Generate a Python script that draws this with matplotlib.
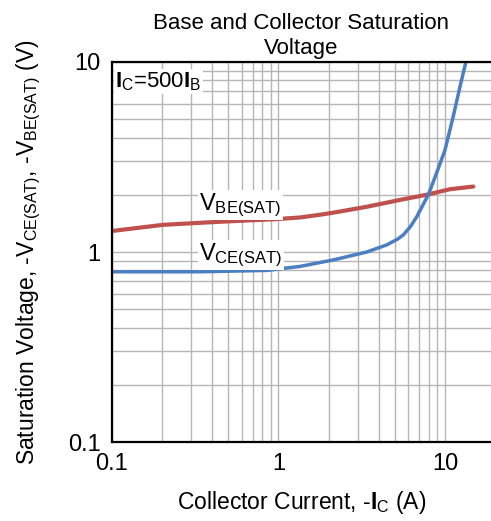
import matplotlib
matplotlib.use('Agg')
from matplotlib import pyplot as plt
from matplotlib.ticker import LogLocator, NullFormatter

plt.rcParams['font.family'] = ['Liberation Sans', 'DejaVu Sans']
plt.rcParams['mathtext.fontset'] = 'custom'
plt.rcParams['mathtext.rm'] = 'Liberation Sans'
plt.rcParams['mathtext.it'] = 'Liberation Sans'
plt.rcParams['mathtext.bf'] = 'Liberation Sans:bold'

# V_BE(SAT) curve
ic_be = [0.1, 0.203, 0.425, 0.975, 1.35, 1.77, 2.13, 3.39, 5.37, 7.94, 10.7, 14.8]
vbe = [1.29, 1.39, 1.44, 1.49, 1.52, 1.57, 1.61, 1.73, 1.88, 2.01, 2.14, 2.21]

# V_CE(SAT) curve
ic_ce = [0.1, 0.34, 0.85, 1.35, 2.13, 3.39, 4.47, 5.2, 5.62, 6.2, 6.76, 7.94, 8.9, 10.0, 11.2, 12.3, 13.3]
vce = [0.787, 0.787, 0.80, 0.84, 0.908, 1.0, 1.09, 1.17, 1.23, 1.36, 1.53, 2.0, 2.6, 3.44, 5.15, 7.4, 9.85]

x_ticks = [0.1, 1, 10]
x_tick_labels = ['0.1', '1', '10']
y_ticks = [0.1, 1, 10]
y_tick_labels = ['0.1', '1', '10']

fig = plt.figure(figsize=(4.91, 5.21), dpi=100)
ax = fig.add_axes([0.228, 0.1516, 0.772, 0.7294])
ax.set_xscale('log')
ax.set_yscale('log')
ax.set_xlim(0.1, 18.9)
ax.set_ylim(0.1, 10)

# grid lines
ax.xaxis.set_minor_locator(LogLocator(base=10, subs=range(2, 10)))
ax.yaxis.set_minor_locator(LogLocator(base=10, subs=range(2, 10)))
ax.xaxis.set_minor_formatter(NullFormatter())
ax.yaxis.set_minor_formatter(NullFormatter())
ax.grid(True, which='both', color='#b5b5b5', lw=1.0)
ax.set_axisbelow(True)

ax.plot(ic_be, vbe, color='#c0504d', lw=3.0, solid_capstyle='round')
ax.plot(ic_ce, vce, color='#4a7fc1', lw=2.5, solid_capstyle='round')

ax.set_xticks(x_ticks)
ax.set_xticklabels(x_tick_labels)
ax.set_yticks(y_ticks)
ax.set_yticklabels(y_tick_labels)
ax.tick_params(which='both', length=0, labelsize=17, pad=8)

for s in ['left', 'bottom', 'top']:
    ax.spines[s].set_linewidth(1.6)
ax.spines['right'].set_visible(False)

ax.set_title('Base and Collector Saturation\nVoltage', fontsize=16, linespacing=1.2, pad=6)
ax.set_xlabel(r'Collector Current, -$\mathbf{I}_{\mathrm{C}}$ (A)', fontsize=16.5, labelpad=10)
ax.set_ylabel(r'Saturation Voltage, -V$_{\mathrm{CE(SAT)}}$, -V$_{\mathrm{BE(SAT)}}$ (V)',
              fontsize=16.5, labelpad=18)

box = dict(facecolor='white', edgecolor='none', pad=1)
ax.text(0.105, 7.9, r'$\mathbf{I}_{\mathrm{C}}$=500$\mathbf{I}_{\mathrm{B}}$', fontsize=16,
        va='center', ha='left', bbox=box)
ax.text(0.335, 1.76, r'V$_{\mathrm{BE(SAT)}}$', fontsize=17, va='center', ha='left', bbox=box)
ax.text(0.335, 0.96, r'V$_{\mathrm{CE(SAT)}}$', fontsize=17, va='center', ha='left', bbox=box)

fig.savefig('out.png', dpi=100)
